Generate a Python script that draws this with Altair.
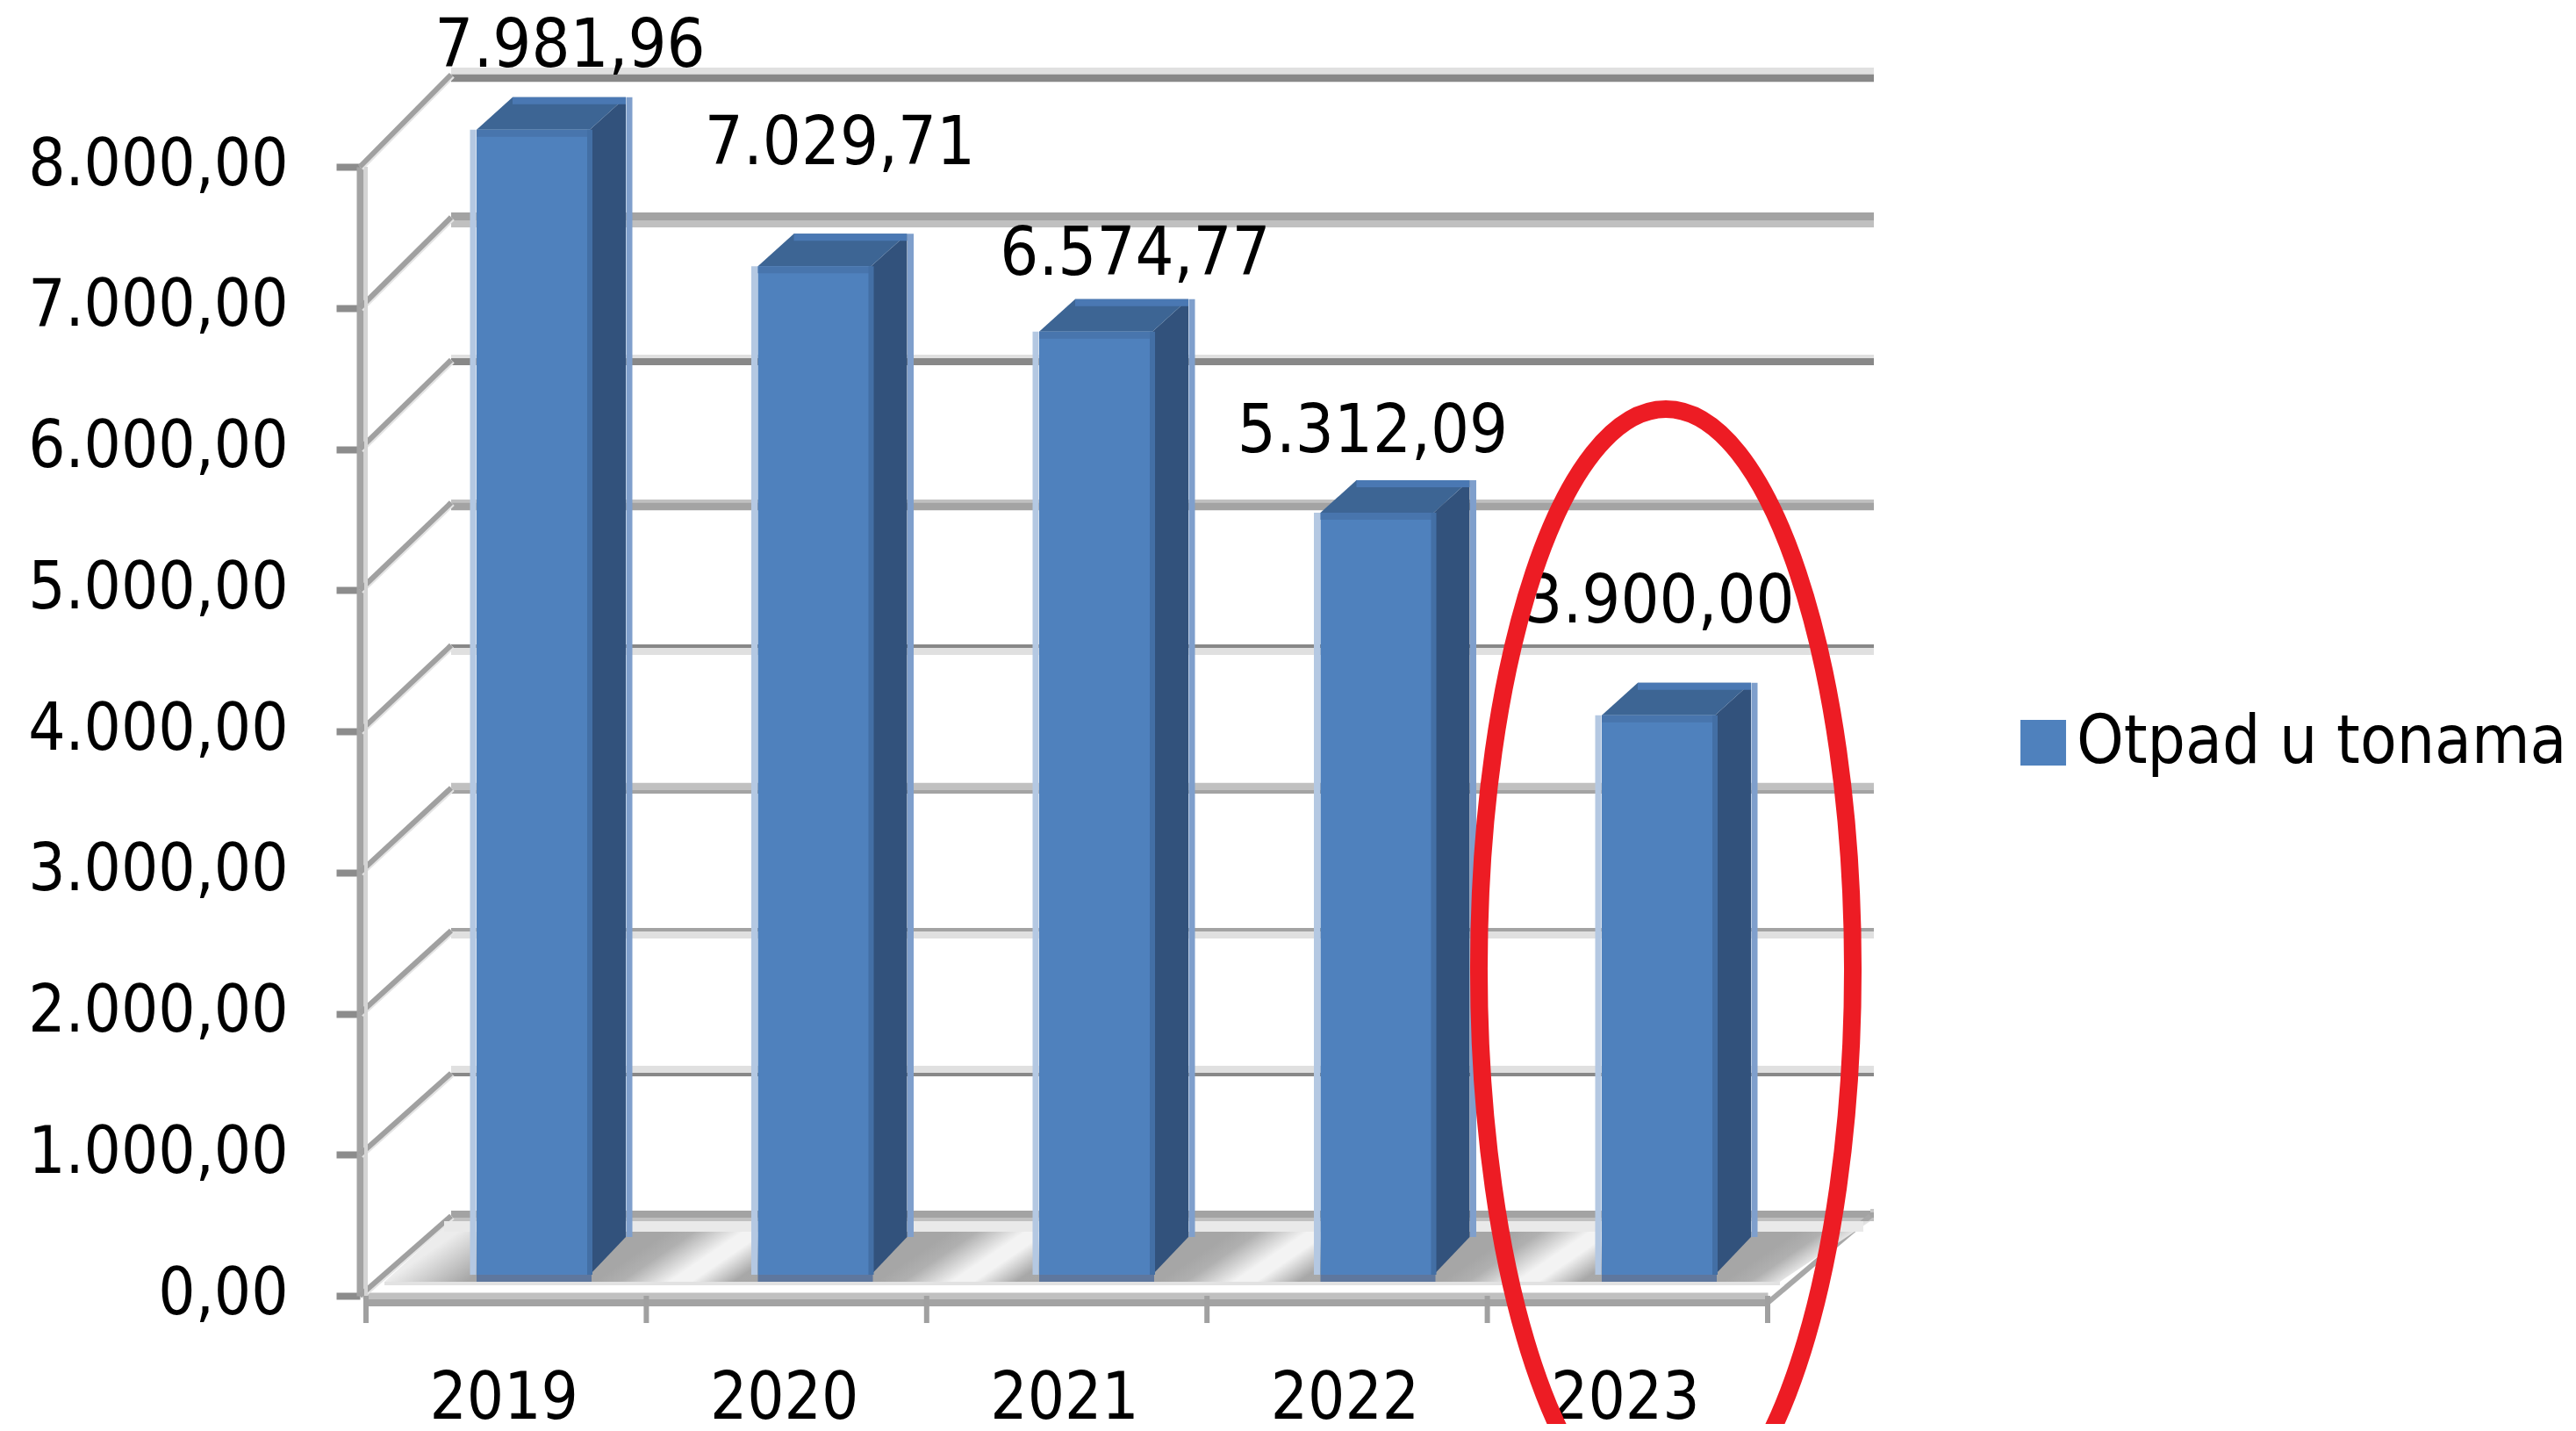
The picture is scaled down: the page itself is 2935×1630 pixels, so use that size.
import altair as alt
import pandas as pd

# ---------- chart values ----------
YEARS = ["2019", "2020", "2021", "2022", "2023"]
TONNES = [7981.96, 7029.71, 6574.77, 5312.09, 3900.00]
VALUE_LABELS = ["7.981,96", "7.029,71", "6.574,77", "5.312,09", "3.900,00"]
SERIES = "Otpad u tonama"
Y_TICKS = [0, 1000, 2000, 3000, 4000, 5000, 6000, 7000, 8000]

# ---------- look ----------
FONT = "DejaVu Sans Condensed"
FS = 77
AXIS_FS = 74
BLUE, SIDE, TOP = "#4f81bd", "#32527c", "#3d6594"
# per bar label nudges (dx, dy) as placed in the picture
NUDGE = [(42, -72), (29, -116), (45, -65), (-5, -69), (1, -106)]
# back-wall rules: each gridline is a dark and a light stripe (offset px, width, colour)
GRID_STYLE = {
    8000: [(-4, 8, "#e0e0e0"), (4, 8.5, "#888888")],
    7000: [(-1, 9, "#a3a3a3"), (7.5, 8, "#c0c0c0")],
    6000: [(-4, 4, "#e0e0e0"), (2, 8, "#888888")],
    5000: [(-1.5, 4, "#c0c0c0"), (4.5, 8.5, "#a3a3a3")],
    4000: [(1, 4, "#888888"), (7, 8, "#e0e0e0")],
    3000: [(-1.5, 8.5, "#c0c0c0"), (4.5, 4, "#a3a3a3")],
    2000: [(-1, 4, "#a3a3a3"), (5, 8, "#e0e0e0")],
    1000: [(-4.5, 8, "#e0e0e0"), (1.5, 4, "#888888")],
    0: [(-2, 8, "#a3a3a3"), (4, 4, "#c0c0c0")],
}

# ---------- projection of the pseudo 3D frame ----------
X0_PX, Y0_PX = 417, 1476
PX_PER_BAND = 319.4
PX_PER_UNIT = 0.16075
ux = lambda px: (px - X0_PX) / PX_PER_BAND      # picture x to band units
uy = lambda py: (Y0_PX - py) / PX_PER_UNIT      # picture y to value units
udx = lambda d: d / PX_PER_BAND
udy = lambda d: d / PX_PER_UNIT


def back_y(v):
    return uy(1385 - v * 0.16250)


def bar_y(v):
    return uy(1452 - v * 0.1634)


BAR_X0, BAR_STEP, BAR_W = ux(543), 320.5 / PX_PER_BAND, udx(129)
DX, DY_TOP, DY_BOTTOM = udx(41), udy(37), udy(43)
BACK_L, BACK_R, AX_L = ux(514), ux(2135), ux(410)

x_scale = alt.Scale(domain=[0, 5], range=[0, 1597], nice=False, zero=False)
y_scale = alt.Scale(domain=[0, 8000], range=[1468, 182], nice=False, zero=False)

# ---------- axes ----------
axis_font = dict(labelFont=FONT, labelFontSize=AXIS_FS, labelColor="#000000", labelLimit=800)
y_axis = alt.Axis(
    values=Y_TICKS, orient="left", offset=7, grid=False, title=None,
    domainColor="#a3a3a3", domainWidth=8,
    tickColor="#8c8c8c", tickWidth=8, tickSize=27, labelPadding=55, labelOffset=-2,
    labelOverlap=False, labelBound=False, labelFlush=False,
    labelExpr="replace(replace(replace(format(datum.value,',.2f'),',','#'),'.',','),'#','.')",
    **axis_font,
)
x_axis = alt.Axis(
    values=[i + 0.5 for i in range(len(YEARS))], orient="bottom", grid=False, title=None,
    ticks=False, domainColor="#c0c0c0", domainWidth=8, labelPadding=81, labelOffset=-3,
    labelOverlap=False, labelBound=False, labelFlush=False,
    labelExpr="[" + ",".join(f"'{y}'" for y in YEARS) + "][floor(datum.value)]",
    **axis_font,
)


def X(f="x"):
    return alt.X(f"{f}:Q", scale=x_scale, title=None, axis=x_axis)


def Y(f="y"):
    return alt.Y(f"{f}:Q", scale=y_scale, title=None, axis=y_axis)


def rules(rows):
    df = pd.DataFrame(rows, columns=["x", "x2", "y", "y2", "c", "w"])
    return alt.Chart(df).mark_rule().encode(
        x=X(), x2=alt.X2("x2:Q"), y=Y(), y2=alt.Y2("y2:Q"),
        stroke=alt.Stroke("c:N", scale=None),
        strokeWidth=alt.StrokeWidth("w:Q", scale=None),
    )


def area(rows, fill):
    df = pd.DataFrame(rows, columns=["g", "x", "y", "y2"])
    return alt.Chart(df).mark_area(color=fill, orient="vertical", interpolate="linear").encode(
        x=X(), y=Y(), y2=alt.Y2("y2:Q"), detail="g:N",
    )


# ---------- frame ----------
grid_rows = []
for v in Y_TICKS:
    for off, w, c in GRID_STYLE[v]:
        y = back_y(v) - udy(off)
        grid_rows.append((BACK_L, BACK_R, y, y, c, w))
    # diagonal on the side wall
    grid_rows.append((AX_L + 0.004, BACK_L + 0.004, v + udy(-1), back_y(v) + udy(-1), "#e4e4e4", 7))
    grid_rows.append((AX_L, BACK_L, v, back_y(v), "#a0a0a0", 6))
grid_rows += [
    (0.0, 0.0, 0, 8000, "#d4d4d4", 4),                        # light side of the value axis
    (0, 5, udy(-8), udy(-8), "#a3a3a3", 8),                   # floor front, dark stripe
    (5, ux(2131), udy(-8), back_y(0), "#a8a8a8", 6),          # right floor edge
    (ux(2131), BACK_R, back_y(0) + udy(6), back_y(0) + udy(6), "#c8c8c8", 4),
]
for i in range(6):
    grid_rows.append((float(i), float(i), 0, udy(-31), "#a0a0a0", 6))
frame = rules(grid_rows)

# floor with a diagonal shading between the bars
F_L, F_R, F_BL, F_BR = 438, 2131, 514, 2028
span = F_R - F_L
TILT = 0.06
stops = [
    alt.GradientStop(offset=0, color="#ececec"),
    alt.GradientStop(offset=TILT, color="#ececec"),
    alt.GradientStop(offset=TILT + (530 - F_L) / span, color="#a6a6a6"),
]
SHADE = [(0, "#a6a6a6"), (30, "#b0b0b0"), (85, "#f3f3f3"), (110, "#f3f3f3"), (158, "#a8a8a8"), (200, "#a6a6a6")]
for i in range(5):
    a = 676 + 320.5 * i
    for d, col in SHADE:
        off = TILT + (a + d - F_L) / span
        if off < 1:
            stops.append(alt.GradientStop(offset=off, color=col))
stops.append(alt.GradientStop(offset=1, color="#f0f0f0"))
floor_df = pd.DataFrame(
    [
        (ux(F_L), uy(1460), uy(1460)),
        (ux(F_BL), uy(1391), uy(1460)),
        (ux(F_BR), uy(1391), uy(1460)),
        (ux(F_R), uy(1391), uy(1391)),
    ],
    columns=["x", "y", "y2"],
)
floor = alt.Chart(floor_df).mark_area(
    orient="vertical", interpolate="linear",
    color=alt.Gradient(gradient="linear", stops=stops, x1=0, y1=0, x2=1, y2=TILT),
).encode(x=X(), y=Y(), y2=alt.Y2("y2:Q"))
floor_bands = rules([
    (ux(F_BL - 8), ux(F_R - 8), uy(1397), uy(1397), "#e9e9e9", 12),
    (ux(F_L), ux(F_BR), uy(1462), uy(1462), "#e2e2e2", 4),
])

# ---------- bars ----------
xs = [BAR_X0 + i * BAR_STEP for i in range(len(YEARS))]
base = bar_y(0)
side_rows, top_rows, edge_before, edge_after = [], [], [], []
for i, (x0, v) in enumerate(zip(xs, TONNES)):
    xr = x0 + BAR_W
    t = bar_y(v)
    side_rows += [(i, xr, t, base), (i, xr + DX, t + DY_TOP, base + DY_BOTTOM)]
    top_rows += [
        (i, x0, t, t),
        (i, x0 + DX, t + DY_TOP, t),
        (i, xr, t + DY_TOP, t),
        (i, xr + DX, t + DY_TOP, t + DY_TOP),
    ]
    # left highlight, right highlight, plinth, top edges
    edge_before.append((x0 - udx(4), x0 - udx(4), base, t, "#b4c8e2", 7))
    edge_before.append((xr + DX + udx(4), xr + DX + udx(4), base + DY_BOTTOM, t + DY_TOP, "#7f9fcc", 7))
    edge_after.append((x0, xr + udx(2), base - udy(4), base - udy(4), "#5e779e", 8))
    edge_after.append((x0, xr, t - udy(4), t - udy(4), "#4875ad", 8))
    edge_after.append((x0 + DX, xr + DX, t + DY_TOP - udy(4), t + DY_TOP - udy(4), "#4a78b3", 8))
    edge_after.append((xr, xr, base, t, "#436fa5", 6))

bar_df = pd.DataFrame({
    "x": xs,
    "x2": [x + BAR_W for x in xs],
    "y": [bar_y(v) for v in TONNES],
    "y2": [base] * len(xs),
    "series": [SERIES] * len(xs),
    "year": YEARS,
})
fronts = alt.Chart(bar_df).mark_bar(strokeWidth=0).encode(
    x=X(), x2=alt.X2("x2:Q"), y=Y(), y2=alt.Y2("y2:Q"),
    fill=alt.Fill(
        "series:N",
        scale=alt.Scale(domain=[SERIES], range=[BLUE]),
        legend=alt.Legend(
            title=None, orient="none", legendX=1873, legendY=800,
            symbolType="square", symbolSize=2700, symbolStrokeWidth=0, symbolOpacity=1,
            labelFont=FONT, labelFontSize=76, labelColor="#000000", labelOffset=0,
            labelLimit=800, padding=0,
        ),
    ),
)

# ---------- value labels ----------
labels = []
for i, (dx, dy) in enumerate(NUDGE):
    d = pd.DataFrame({"x": [xs[i] + BAR_W / 2], "y": [bar_y(TONNES[i])], "t": [VALUE_LABELS[i]]})
    labels.append(
        alt.Chart(d).mark_text(
            font=FONT, fontSize=FS, color="#000000", align="center",
            baseline="alphabetic", dx=dx, dy=dy,
        ).encode(x=X(), y=Y(), text="t:N")
    )

# ---------- hand-drawn red ellipse round the last year ----------
RY = 638
RX = 213 / RY
ellipse_path = f"M{-RX:.4f},0 A{RX:.4f},1 0 1,1 {RX:.4f},0 A{RX:.4f},1 0 1,1 {-RX:.4f},0 Z"
ellipse = alt.Chart(pd.DataFrame({"x": [ux(1898)], "y": [uy(1104)]})).mark_point(
    shape=ellipse_path, size=(2 * RY) ** 2, filled=False, stroke="#ed1c24",
    strokeWidth=20, opacity=1, fillOpacity=0,
).encode(x=X(), y=Y())

chart = alt.layer(
    frame, floor, floor_bands,
    rules(edge_before), area(side_rows, SIDE), area(top_rows, TOP), fronts, rules(edge_after),
    *labels, ellipse,
).properties(
    width=1597, height=1468,
    autosize=alt.AutoSizeParams(type="none"),
    padding={"left": 409, "top": 0, "right": 913, "bottom": 146},
    background="white",
).configure_view(strokeWidth=0)

chart.save("out.html", embed_options={"renderer": "svg", "actions": False})
